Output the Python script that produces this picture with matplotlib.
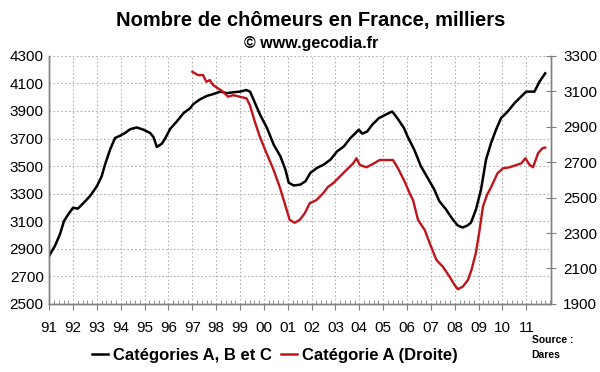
import matplotlib
matplotlib.use("Agg")
import matplotlib.pyplot as plt
from matplotlib.ticker import MultipleLocator, FixedLocator
from matplotlib.lines import Line2D

plt.rcParams["font.family"] = ["Liberation Sans", "DejaVu Sans"]

# -----------------------------
# Chômeurs en France (milliers)
# -----------------------------

# Catégories A, B et C (axe de gauche)
abc_years = [1991.00, 1991.24, 1991.45, 1991.62, 1991.80, 1992.00, 1992.20, 1992.42,
             1992.71, 1993.00, 1993.20, 1993.34, 1993.55, 1993.76, 1993.97, 1994.18,
             1994.40, 1994.67, 1994.95, 1995.23, 1995.37, 1995.51, 1995.72, 1995.86,
             1996.07, 1996.35, 1996.63, 1996.91, 1997.05, 1997.33, 1997.61, 1997.89,
             1998.17, 1998.45, 1998.73, 1999.00, 1999.26, 1999.42, 1999.63, 1999.84,
             2000.13, 2000.41, 2000.69, 2000.90, 2001.04, 2001.25, 2001.53, 2001.74,
             2001.95, 2002.23, 2002.51, 2002.79, 2003.07, 2003.35, 2003.63, 2003.84,
             2003.98, 2004.12, 2004.33, 2004.54, 2004.82, 2005.17, 2005.38, 2005.59,
             2005.87, 2006.02, 2006.30, 2006.58, 2006.86, 2007.14, 2007.35, 2007.63,
             2007.91, 2008.12, 2008.33, 2008.54, 2008.68, 2008.89, 2009.10, 2009.31,
             2009.52, 2009.73, 2009.94, 2010.22, 2010.50, 2010.71, 2010.99, 2011.34,
             2011.55, 2011.79]
abc_values = [2849, 2921, 3005, 3101, 3150, 3198, 3191, 3229,
              3282, 3354, 3426, 3511, 3619, 3704, 3720, 3740,
              3768, 3780, 3764, 3740, 3711, 3639, 3662, 3700,
              3770, 3824, 3884, 3920, 3951, 3985, 4009, 4023,
              4040, 4029, 4036, 4040, 4052, 4040, 3956, 3872,
              3776, 3655, 3571, 3475, 3379, 3359, 3366, 3390,
              3451, 3487, 3511, 3547, 3607, 3643, 3704, 3740,
              3764, 3735, 3751, 3800, 3848, 3879, 3896, 3848,
              3776, 3715, 3619, 3499, 3415, 3330, 3246, 3186,
              3114, 3070, 3054, 3070, 3090, 3186, 3330, 3547,
              3667, 3764, 3848, 3896, 3956, 3992, 4040, 4040,
              4112, 4173]

# Catégorie A (axe de droite)
a_years = [1997.00, 1997.24, 1997.45, 1997.59, 1997.73, 1997.87, 1998.08, 1998.29,
           1998.50, 1998.71, 1998.99, 1999.27, 1999.41, 1999.62, 1999.83, 2000.11,
           2000.38, 2000.66, 2000.87, 2001.08, 2001.29, 2001.50, 2001.71, 2001.92,
           2002.20, 2002.48, 2002.69, 2002.90, 2003.11, 2003.32, 2003.53, 2003.74,
           2003.88, 2004.02, 2004.30, 2004.57, 2004.85, 2005.13, 2005.41, 2005.62,
           2005.90, 2006.11, 2006.25, 2006.46, 2006.74, 2006.95, 2007.23, 2007.50,
           2007.78, 2007.99, 2008.13, 2008.34, 2008.55, 2008.70, 2008.88, 2009.04,
           2009.18, 2009.35, 2009.53, 2009.79, 2010.02, 2010.30, 2010.58, 2010.79,
           2010.96, 2011.14, 2011.28, 2011.49, 2011.67, 2011.79]
a_values = [3210, 3191, 3191, 3153, 3163, 3135, 3116, 3097,
            3069, 3078, 3069, 3060, 3022, 2928, 2843, 2750,
            2665, 2561, 2468, 2374, 2358, 2374, 2411, 2468,
            2486, 2524, 2561, 2581, 2609, 2637, 2665, 2693,
            2722, 2684, 2671, 2690, 2712, 2712, 2712, 2665,
            2590, 2524, 2486, 2374, 2317, 2242, 2148, 2110,
            2054, 2007, 1983, 1998, 2035, 2092, 2186, 2317,
            2449, 2515, 2561, 2637, 2665, 2671, 2684, 2693,
            2722, 2684, 2671, 2750, 2778, 2782]

year_labels = ["91", "92", "93", "94", "95", "96", "97", "98", "99", "00",
               "01", "02", "03", "04", "05", "06", "07", "08", "09", "10", "11"]
left_ticks = [2500, 2700, 2900, 3100, 3300, 3500, 3700, 3900, 4100, 4300]
right_ticks = [1900, 2100, 2300, 2500, 2700, 2900, 3100, 3300]

fig = plt.figure(figsize=(6.0, 3.72), dpi=100)
ax = fig.add_axes([0.082, 0.183, 0.837, 0.667])
ax2 = ax.twinx()

ax.plot(abc_years, abc_values, color="black", lw=1.8, zorder=3)
ax2.plot(a_years, a_values, color="#c0141b", lw=1.7, zorder=3)

ax.set_xlim(1991, 2012.05)
ax.set_ylim(2500, 4300)
ax2.set_ylim(1900, 3300)

ax.yaxis.set_major_locator(FixedLocator(left_ticks))
ax2.yaxis.set_major_locator(FixedLocator(right_ticks))

ticks = [1991 + i for i in range(len(year_labels))]
ax.xaxis.set_major_locator(FixedLocator(ticks))
ax.set_xticklabels(year_labels)
ax.xaxis.set_minor_locator(MultipleLocator(0.2))

ax.grid(True, which="major", color="#b0b0b0", ls=(0, (1.5, 2)), lw=0.8)
ax.set_axisbelow(True)

grey = "#808080"
for a in (ax, ax2):
    for s in a.spines.values():
        s.set_color(grey)
        s.set_linewidth(1.0)
ax.spines["top"].set_visible(False)
ax2.spines["top"].set_visible(False)

ax.tick_params(axis="y", length=0, labelsize=11, pad=4)
ax.tick_params(axis="x", which="major", direction="out", length=4, color=grey,
               labelsize=11, pad=8)
ax.tick_params(axis="x", which="minor", direction="in", length=3, color=grey)
ax2.tick_params(axis="y", direction="inout", length=7, color=grey, labelsize=11, pad=5)

fig.text(0.518, 0.945, "Nombre de chômeurs en France, milliers", ha="center",
         va="center", fontsize=14.5, fontweight="bold")
fig.text(0.518, 0.882, "© www.gecodia.fr", ha="center", va="center",
         fontsize=11.5, fontweight="bold")

handles = [Line2D([], [], color="black", lw=1.8),
           Line2D([], [], color="#c0141b", lw=1.8)]
fig.legend(handles, ["Catégories A, B et C", "Catégorie A (Droite)"],
           loc="center", bbox_to_anchor=(0.458, 0.045), ncol=2, frameon=False,
           prop={"weight": "bold", "size": 12}, handlelength=1.0,
           handletextpad=0.3, columnspacing=0.5)

fig.text(0.886, 0.065, "Source :\nDares", ha="left", va="center", fontsize=7.5,
         fontweight="bold", linespacing=1.6)

fig.savefig("out.png", dpi=100)
